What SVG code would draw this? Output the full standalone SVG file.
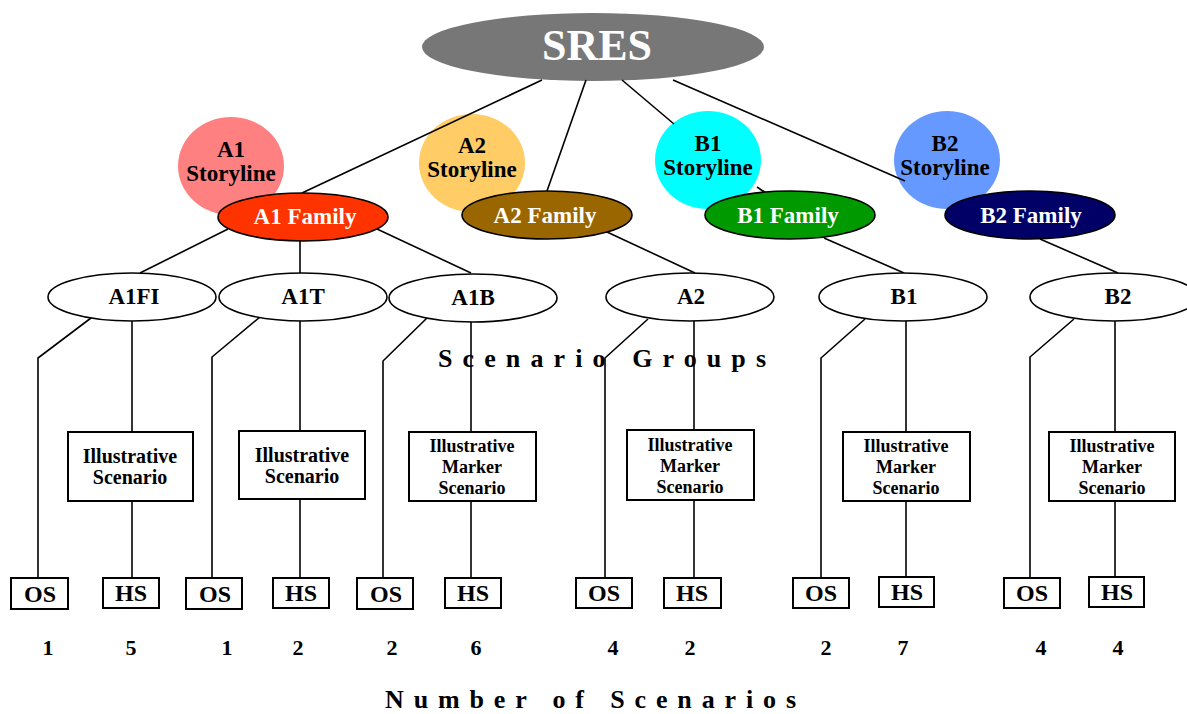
<svg xmlns="http://www.w3.org/2000/svg" width="1187" height="714" viewBox="0 0 1187 714">
<style>
text{font-family:"Liberation Serif","Times New Roman",serif;font-weight:bold;text-anchor:middle}
.ln{stroke:#000;stroke-width:1.6;fill:none}
.grp{fill:#fff;stroke:#000;stroke-width:1.6}
.fam{stroke:#000;stroke-width:1.6}
.box{fill:#fff;stroke:#000;stroke-width:2}
.st{font-size:23px;fill:#000}
.ft{font-size:23px;fill:#fff}
.gt{font-size:23px;fill:#000}
.bt{font-size:20px;fill:#000}
.bm{font-size:18px;fill:#000}
.ot{font-size:24px;fill:#000}
.nt{font-size:22px;fill:#000}
.tt{font-size:26px;fill:#000}
</style>
<rect width="1187" height="714" fill="#fff"/>
<g id="sres"><ellipse cx="593" cy="47" rx="171" ry="34" fill="#777"/><text x="597" y="60" style="font-size:44px;fill:#fff">SRES</text></g>
<g id="a1-storyline"><ellipse cx="231" cy="166" rx="53" ry="49" fill="#ff8080"/><text class="st" x="231" y="157">A1</text><text class="st" x="231" y="181">Storyline</text></g>
<g id="a2-storyline"><ellipse cx="472" cy="163" rx="53" ry="49" fill="#ffcc66"/><text class="st" x="472" y="153">A2</text><text class="st" x="472" y="177">Storyline</text></g>
<g id="b1-storyline"><ellipse cx="708" cy="160" rx="53" ry="49" fill="#00ffff"/><text class="st" x="708" y="151">B1</text><text class="st" x="708" y="175">Storyline</text></g>
<g id="b2-storyline"><ellipse cx="947" cy="160" rx="53" ry="49" fill="#6699ff"/><text class="st" x="945" y="151">B2</text><text class="st" x="945" y="175">Storyline</text></g>
<g id="connectors">
<line class="ln" x1="542" y1="80" x2="302" y2="193"/>
<line class="ln" x1="586" y1="80" x2="547" y2="191"/>
<line class="ln" x1="622" y1="80" x2="674" y2="124"/>
<line class="ln" x1="757" y1="187" x2="766" y2="193"/>
<line class="ln" x1="673" y1="80" x2="905" y2="181"/>
<line class="ln" x1="228" y1="229" x2="140" y2="273"/>
<line class="ln" x1="300" y1="241" x2="300" y2="273"/>
<line class="ln" x1="377" y1="229" x2="471" y2="273"/>
<line class="ln" x1="607" y1="232" x2="695" y2="273"/>
<line class="ln" x1="824" y1="238" x2="904" y2="273"/>
<line class="ln" x1="1040" y1="239" x2="1118" y2="273"/>
<polyline class="ln" points="91,318 38,358 38,578"/>
<polyline class="ln" points="260,317 212,357 212,578"/>
<polyline class="ln" points="427,318 383,361 383,578"/>
<polyline class="ln" points="648,319 605,358 605,578"/>
<polyline class="ln" points="865,319 821,358 821,578"/>
<polyline class="ln" points="1074,319 1030,357 1030,578"/>
<line class="ln" x1="132" y1="321" x2="132" y2="432"/><line class="ln" x1="132" y1="501" x2="132" y2="578"/>
<line class="ln" x1="300" y1="321" x2="300" y2="431"/><line class="ln" x1="300" y1="499" x2="300" y2="578"/>
<line class="ln" x1="471" y1="321" x2="471" y2="432"/><line class="ln" x1="471" y1="501" x2="471" y2="578"/>
<line class="ln" x1="694" y1="321" x2="694" y2="430"/><line class="ln" x1="694" y1="500" x2="694" y2="578"/>
<line class="ln" x1="906" y1="321" x2="906" y2="432"/><line class="ln" x1="906" y1="501" x2="906" y2="578"/>
<line class="ln" x1="1115" y1="321" x2="1115" y2="432"/><line class="ln" x1="1115" y1="501" x2="1115" y2="578"/>
</g>
<g id="a1-family"><ellipse class="fam" cx="303" cy="217" rx="85" ry="24" fill="#ff3300"/><text class="ft" x="305" y="224">A1 Family</text></g>
<g id="a2-family"><ellipse class="fam" cx="547" cy="215" rx="85" ry="24" fill="#996600"/><text class="ft" x="545" y="223">A2 Family</text></g>
<g id="b1-family"><ellipse class="fam" cx="790" cy="215" rx="85" ry="24" fill="#009900"/><text class="ft" x="788" y="223">B1 Family</text></g>
<g id="b2-family"><ellipse class="fam" cx="1030" cy="215" rx="85" ry="24" fill="#000066"/><text class="ft" x="1031" y="223">B2 Family</text></g>
<g id="grp-a1fi"><ellipse class="grp" cx="132" cy="297" rx="84" ry="24"/><text class="gt" x="134" y="304">A1FI</text></g>
<g id="grp-a1t"><ellipse class="grp" cx="303" cy="297" rx="84" ry="24"/><text class="gt" x="303" y="304">A1T</text></g>
<g id="grp-a1b"><ellipse class="grp" cx="473" cy="298" rx="84" ry="24"/><text class="gt" x="473" y="305">A1B</text></g>
<g id="grp-a2"><ellipse class="grp" cx="690" cy="297" rx="84" ry="24"/><text class="gt" x="691" y="304">A2</text></g>
<g id="grp-b1"><ellipse class="grp" cx="903" cy="297" rx="84" ry="24"/><text class="gt" x="904" y="304">B1</text></g>
<g id="grp-b2"><ellipse class="grp" cx="1114" cy="297" rx="84" ry="24"/><text class="gt" x="1118" y="304">B2</text></g>
<g id="box-a1fi"><rect class="box" x="68" y="432" width="125" height="69"/><text class="bt" x="130" y="463">Illustrative</text><text class="bt" x="130" y="484">Scenario</text></g>
<g id="box-a1t"><rect class="box" x="239" y="431" width="126" height="68"/><text class="bt" x="302" y="462">Illustrative</text><text class="bt" x="302" y="483">Scenario</text></g>
<g id="box-a1b"><rect class="box" x="409" y="432" width="127" height="69"/><text class="bm" x="472" y="452">Illustrative</text><text class="bm" x="472" y="473">Marker</text><text class="bm" x="472" y="494">Scenario</text></g>
<g id="box-a2"><rect class="box" x="627" y="430" width="127" height="70"/><text class="bm" x="690" y="451">Illustrative</text><text class="bm" x="690" y="472">Marker</text><text class="bm" x="690" y="493">Scenario</text></g>
<g id="box-b1"><rect class="box" x="843" y="432" width="127" height="69"/><text class="bm" x="906" y="452">Illustrative</text><text class="bm" x="906" y="473">Marker</text><text class="bm" x="906" y="494">Scenario</text></g>
<g id="box-b2"><rect class="box" x="1049" y="432" width="126" height="69"/><text class="bm" x="1112" y="452">Illustrative</text><text class="bm" x="1112" y="473">Marker</text><text class="bm" x="1112" y="494">Scenario</text></g>
<g id="os-a1fi"><rect class="box" x="11" y="578" width="57" height="31"/><text class="ot" x="40" y="602">OS</text></g>
<g id="hs-a1fi"><rect class="box" x="103" y="578" width="56" height="30"/><text class="ot" x="131" y="601">HS</text></g>
<g id="os-a1t"><rect class="box" x="186" y="578" width="56" height="31"/><text class="ot" x="215" y="602">OS</text></g>
<g id="hs-a1t"><rect class="box" x="273" y="578" width="56" height="30"/><text class="ot" x="301" y="601">HS</text></g>
<g id="os-a1b"><rect class="box" x="357" y="578" width="56" height="31"/><text class="ot" x="386" y="602">OS</text></g>
<g id="hs-a1b"><rect class="box" x="445" y="578" width="56" height="30"/><text class="ot" x="473" y="601">HS</text></g>
<g id="os-a2"><rect class="box" x="576" y="578" width="56" height="30"/><text class="ot" x="604" y="601">OS</text></g>
<g id="hs-a2"><rect class="box" x="664" y="578" width="57" height="30"/><text class="ot" x="692" y="601">HS</text></g>
<g id="os-b1"><rect class="box" x="793" y="578" width="56" height="30"/><text class="ot" x="821" y="601">OS</text></g>
<g id="hs-b1"><rect class="box" x="879" y="577" width="55" height="30"/><text class="ot" x="907" y="600">HS</text></g>
<g id="os-b2"><rect class="box" x="1004" y="578" width="56" height="30"/><text class="ot" x="1032" y="601">OS</text></g>
<g id="hs-b2"><rect class="box" x="1089" y="577" width="55" height="30"/><text class="ot" x="1117" y="600">HS</text></g>
<g id="counts">
<text class="nt" x="48" y="655">1</text><text class="nt" x="131" y="655">5</text>
<text class="nt" x="227" y="655">1</text><text class="nt" x="298" y="655">2</text>
<text class="nt" x="392" y="655">2</text><text class="nt" x="476" y="655">6</text>
<text class="nt" x="613" y="655">4</text><text class="nt" x="690" y="655">2</text>
<text class="nt" x="826" y="655">2</text><text class="nt" x="903" y="655">7</text>
<text class="nt" x="1041" y="655">4</text><text class="nt" x="1118" y="655">4</text>
</g>
<text class="tt" x="438" y="367" style="text-anchor:start" textLength="328" lengthAdjust="spacing">Scenario Groups</text>
<text class="tt" x="385" y="708" style="text-anchor:start" textLength="411" lengthAdjust="spacing">Number of Scenarios</text>
</svg>
